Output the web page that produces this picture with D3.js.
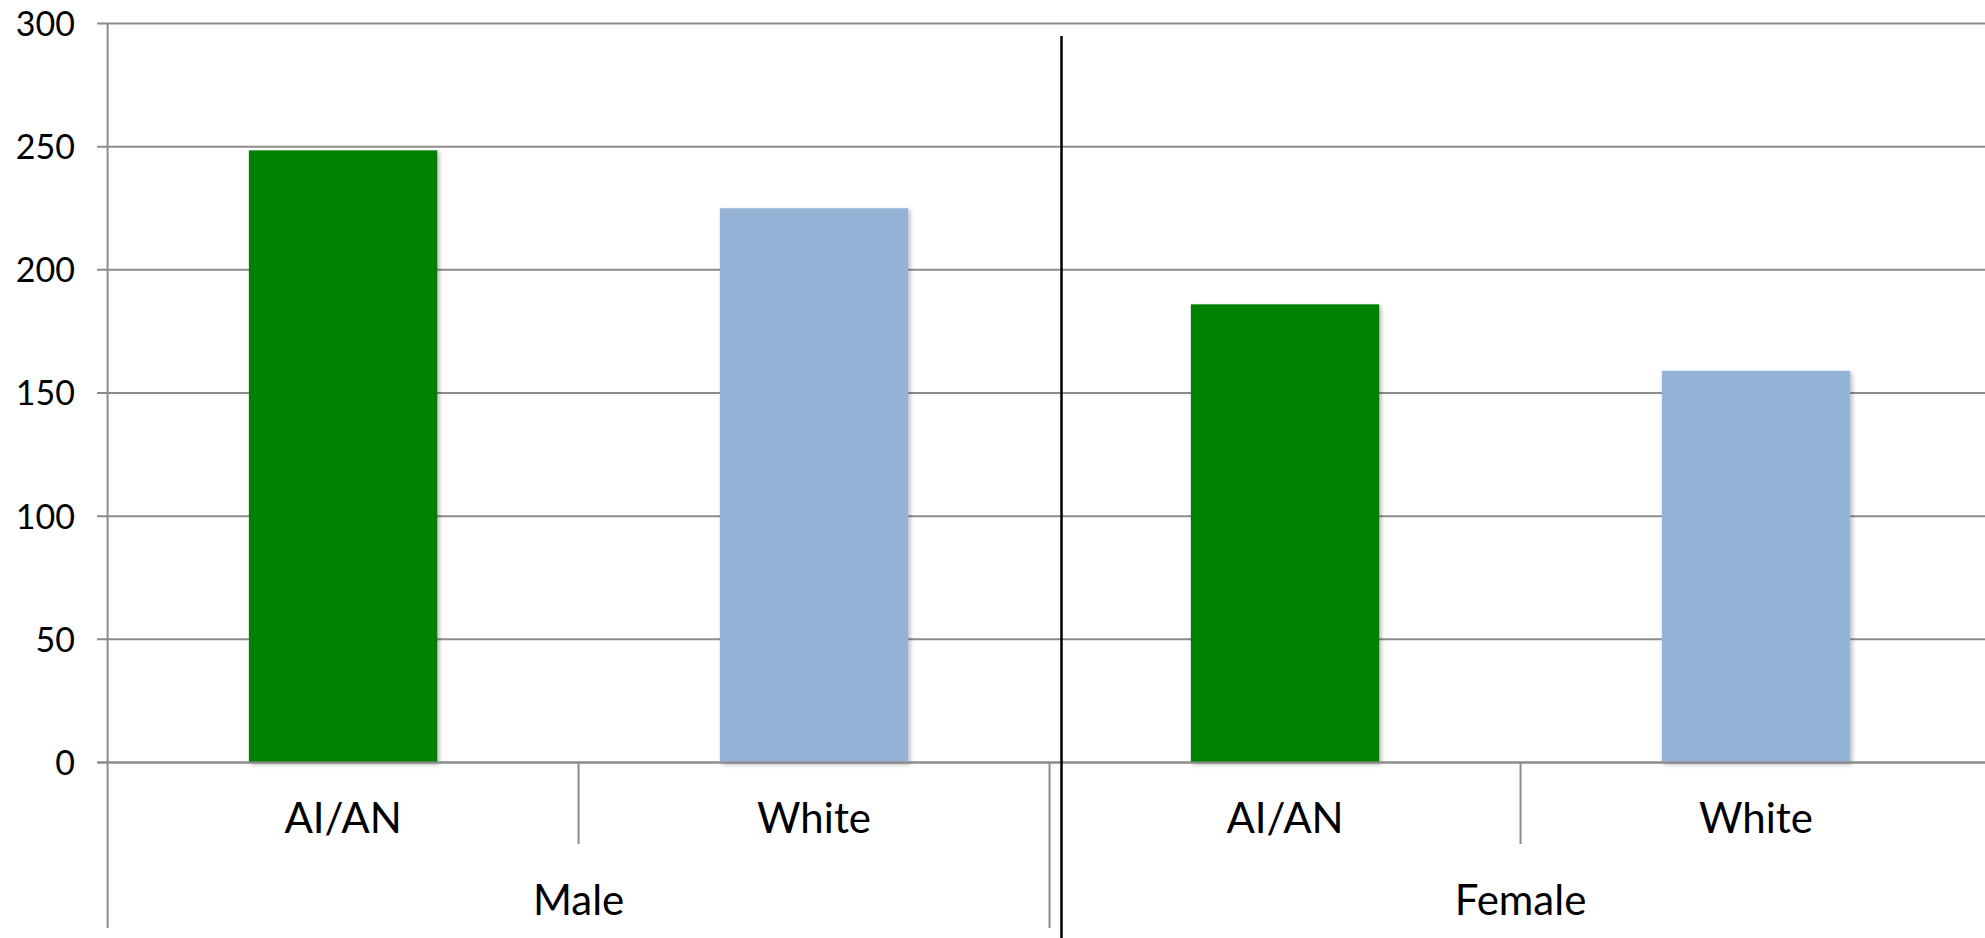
<!DOCTYPE html>
<html>
<head>
<meta charset="utf-8">
<script src="https://cdn.jsdelivr.net/npm/d3@7"></script>
<style>
  html, body { margin: 0; padding: 0; background: #fff; overflow: hidden; }
  svg { display: block; }
  text { font-family: Lato, "Open Sans", sans-serif; fill: #000; }
</style>
</head>
<body>
<svg id="chart" width="1985" height="938"></svg>
<script>
// ---- data ----
const groups = ["Male", "Female"];
const categories = ["AI/AN", "White"];
const values = [248.5, 225, 186, 159];        // Male AI/AN, Male White, Female AI/AN, Female White
const colors = ["#008000", "#95b3d7"];
const yTicks = [0, 50, 100, 150, 200, 250, 300];

// ---- layout ----
const W = 1985, H = 938;
const plotLeft = 107.6, plotRight = 1991.5, plotTop = 23.5, zeroY = 762.5;

const svg = d3.select("#chart");
const defs = svg.append("defs");
const f = defs.append("filter").attr("id", "shadow")
  .attr("x", "-10%").attr("y", "-10%").attr("width", "130%").attr("height", "130%");
f.append("feDropShadow").attr("dx", 2).attr("dy", 2).attr("stdDeviation", 2)
  .attr("flood-color", "#000").attr("flood-opacity", 0.28);

const rows = [];
groups.forEach((g, gi) => categories.forEach((c, ci) => {
  rows.push({ group: g, cat: c, ci: ci, value: values[gi * categories.length + ci] });
}));

const xGroup = d3.scaleBand().domain(groups).range([plotLeft, plotRight]).padding(0);
const xInner = d3.scaleBand().domain(categories).range([0, xGroup.bandwidth()]).padding(0);
const y = d3.scaleLinear().domain([0, 300]).range([zeroY, plotTop]);

// gridlines
svg.append("g").selectAll("line").data(yTicks).join("line")
  .attr("x1", plotLeft - 10.5).attr("x2", W)
  .attr("y1", d => y(d)).attr("y2", d => y(d))
  .attr("stroke", "#8c8c8c").attr("stroke-width", 2);

// y-axis labels via d3 axis
const yAxis = d3.axisLeft(y).tickValues(yTicks).tickSize(0).tickPadding(0).tickFormat(d3.format("d"));
const ya = svg.append("g").attr("transform", "translate(75,0)").call(yAxis);
ya.select(".domain").remove();
ya.selectAll("text").attr("font-size", 34).attr("font-family", "Lato, sans-serif").attr("fill", "#000").attr("dy", "0.35em");

// y axis line
svg.append("line").attr("x1", plotLeft).attr("x2", plotLeft).attr("y1", plotTop).attr("y2", 928)
  .attr("stroke", "#8c8c8c").attr("stroke-width", 2);

// bars
const barW = xInner.bandwidth() * 0.4;
svg.append("g").selectAll("rect").data(rows).join("rect")
  .attr("x", d => xGroup(d.group) + xInner(d.cat) + (xInner.bandwidth() - barW) / 2)
  .attr("y", d => y(d.value))
  .attr("width", barW)
  .attr("height", d => y(0) - y(d.value))
  .attr("fill", d => colors[d.ci])
  .attr("filter", "url(#shadow)");

// baseline over bars
svg.append("line").attr("x1", plotLeft - 10.5).attr("x2", W).attr("y1", y(0)).attr("y2", y(0))
  .attr("stroke", "#8c8c8c").attr("stroke-width", 2);

// inner category separators
groups.forEach(g => {
  categories.slice(1).forEach(c => {
    const xx = xGroup(g) + xInner(c);
    svg.append("line").attr("x1", xx).attr("x2", xx).attr("y1", y(0)).attr("y2", 844)
      .attr("stroke", "#8c8c8c").attr("stroke-width", 2);
  });
});
// group separators
groups.slice(1).forEach(g => {
  const xx = xGroup(g);
  svg.append("line").attr("x1", xx).attr("x2", xx).attr("y1", y(0)).attr("y2", 928)
    .attr("stroke", "#8c8c8c").attr("stroke-width", 2);
});

// category labels
svg.append("g").selectAll("text").data(rows).join("text")
  .attr("x", d => xGroup(d.group) + xInner(d.cat) + xInner.bandwidth() / 2)
  .attr("y", 833)
  .attr("text-anchor", "middle")
  .attr("font-size", 42)
  .text(d => d.cat);

// group labels
svg.append("g").selectAll("text").data(groups).join("text")
  .attr("x", d => xGroup(d) + xGroup.bandwidth() / 2)
  .attr("y", 915)
  .attr("text-anchor", "middle")
  .attr("font-size", 42)
  .text(d => d);

// black divider line
svg.append("line").attr("x1", 1061.5).attr("x2", 1061.5).attr("y1", 36).attr("y2", H)
  .attr("stroke", "#000").attr("stroke-width", 2.5);
</script>
</body>
</html>
